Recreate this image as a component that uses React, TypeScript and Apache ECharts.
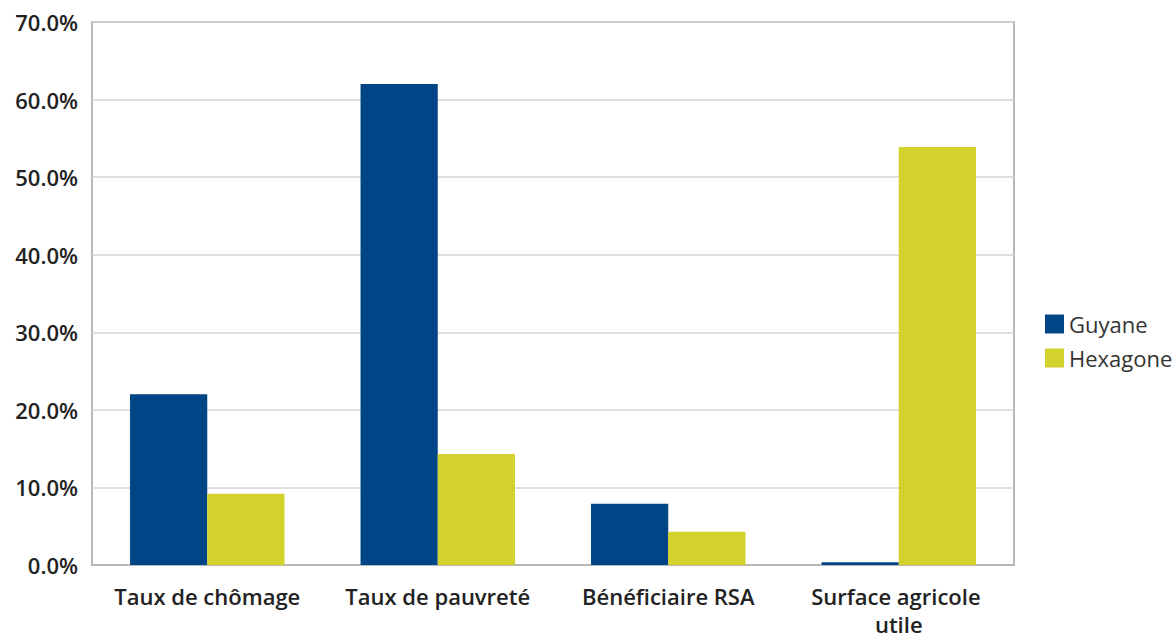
import React, { useEffect, useRef } from "react";
import * as echarts from "echarts";

const categories = [
  "Taux de chômage",
  "Taux de pauvreté",
  "Bénéficiaire RSA",
  "Surface agricole utile",
];
const guyane = [22.0, 62.0, 7.9, 0.35];
const hexagone = [9.2, 14.3, 4.3, 53.9];
const seriesNames = ["Guyane", "Hexagone"];
const colors = ["#004586", "#d3d12c"];

const FONT = "'Open Sans', 'DejaVu Sans', sans-serif";

export default function App() {
  const ref = useRef<HTMLDivElement>(null);

  useEffect(() => {
    if (!ref.current) return;
    const chart = echarts.init(ref.current, undefined, { renderer: "svg" });
    chart.setOption({
      animation: false,
      backgroundColor: "#ffffff",
      grid: {
        left: 92,
        top: 22,
        right: 160,
        bottom: 74,
        show: true,
        borderColor: "#b8b8b8",
        borderWidth: 2,
        containLabel: false,
        outerBoundsMode: "none",
      },
      legend: {
        orient: "vertical",
        left: 1040,
        top: 308,
        itemWidth: 19,
        itemHeight: 19,
        itemGap: 12,
        icon: "rect",
        data: seriesNames,
        textStyle: {
          fontFamily: FONT,
          fontSize: 22,
          lineHeight: 19,
          color: "#333333",
        },
      },
      xAxis: {
        type: "category",
        data: categories,
        axisLine: { show: true, lineStyle: { color: "#b8b8b8", width: 2 } },
        axisTick: { show: false },
        axisLabel: {
          interval: 0,
          fontFamily: FONT,
          fontSize: 22,
          fontWeight: 600,
          color: "#222222",
          margin: 17,
          lineHeight: 28,
          width: 205,
          overflow: "break",
        },
      },
      yAxis: {
        type: "value",
        min: 0,
        max: 70,
        interval: 10,
        axisLine: { show: false },
        axisTick: { show: false },
        splitLine: { lineStyle: { color: "#d4d4d4", width: 1.5 } },
        axisLabel: {
          fontFamily: FONT,
          fontSize: 22,
          fontWeight: 600,
          color: "#222222",
          margin: 14,
          formatter: (v: number) => v.toFixed(1) + "%",
        },
      },
      series: [
        {
          name: seriesNames[0],
          type: "bar",
          data: guyane,
          itemStyle: { color: colors[0] },
          barGap: "0%",
          barCategoryGap: "33%",
        },
        {
          name: seriesNames[1],
          type: "bar",
          data: hexagone,
          itemStyle: { color: colors[1] },
          barGap: "0%",
          barCategoryGap: "33%",
        },
      ],
    });
    return () => chart.dispose();
  }, []);

  return (
    <div
      ref={ref}
      style={{ position: "fixed", left: 0, top: 0, width: 1174, height: 639 }}
    />
  );
}
